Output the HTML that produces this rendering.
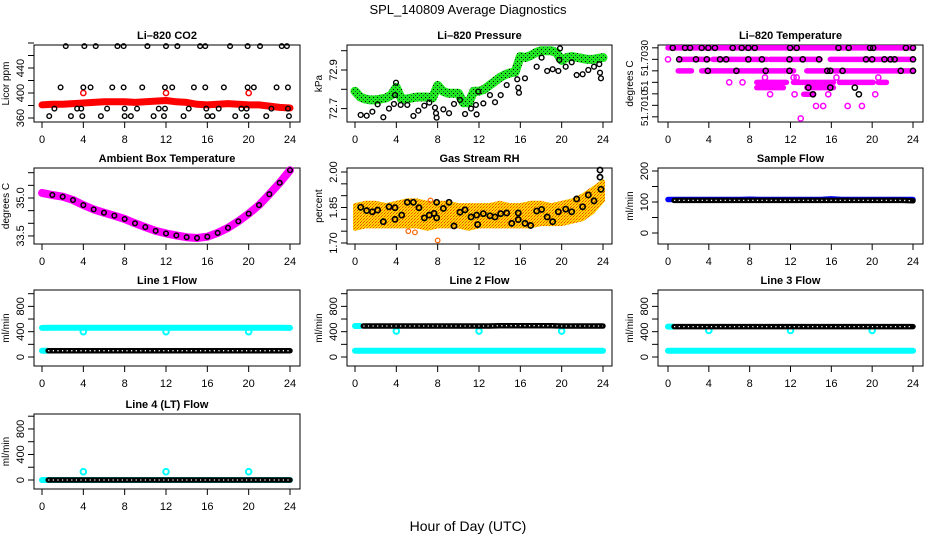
<!DOCTYPE html>
<html><head><meta charset="utf-8"><style>
body{margin:0;background:#fff}
svg{display:block;font-family:"Liberation Sans",sans-serif}
</style></head><body>
<svg id="root" width="936" height="540" viewBox="0 0 936 540" xmlns="http://www.w3.org/2000/svg">
<defs>
<pattern id="pg" width="4" height="4" patternUnits="userSpaceOnUse"><rect width="4" height="4" fill="#22e622"/><rect x="1" y="1" width="1" height="1" fill="#000"/><rect x="3" y="3" width="1" height="1" fill="#063"/></pattern>
<pattern id="po" width="3" height="3" patternUnits="userSpaceOnUse"><rect width="3" height="3" fill="#ffd800"/><rect width="1" height="1" fill="#f04000"/><rect x="2" y="1" width="1" height="1" fill="#f89000"/><rect x="1" y="2" width="1" height="1" fill="#f06000"/></pattern>
</defs>
<text x="468" y="14" text-anchor="middle" font-size="13">SPL_140809  Average Diagnostics</text>
<text x="468" y="531" text-anchor="middle" font-size="14">Hour of Day (UTC)</text>
</svg>
<script>
const hours = [0,1,2,3,4,5,6,7,8,9,10,11,12,13,14,15,16,17,18,19,20,21,22,23,24];
const xTicks = [0,4,8,12,16,20,24];
// CO2
const co2Red = [381,382,382,383,384,385,386,386,386,385,386,387,388,386,385,382,381,382,383,382,381,381,379,377,376];
const co2SpikeH = [4,12,20];
const co2SpikeV = [400,400,400];
const co2BlkH = [2.3,4.1,5.2,7.3,7.9,10.2,12.0,13.1,15.3,15.8,18.2,19.9,21.1,23.2,23.7, 1.8,4.0,4.7,6.8,7.9,9.7,11.9,12.6,14.7,15.8,17.6,19.9,20.5,22.7,23.8, 1.2,3.4,3.8,6.3,8.0,9.2,11.3,11.9,14.2,15.9,17.1,19.3,19.8,22.2,23.8, 0.7,2.8,3.9,5.7,8.0,8.6,10.8,11.8,13.7,16.0,16.5,18.7,19.8,21.7,23.9];
const co2BlkV = [475,475,475,475,475,475,475,475,475,475,475,475,475,475,475, 409,409,409,409,409,409,409,409,409,409,409,409,409,409,409, 375,375,375,375,375,375,375,375,375,375,375,375,375,375,375, 363,363,363,363,363,363,363,363,363,363,363,363,363,363,363];
// Pressure
const presH = [0,0.5,1,1.5,2,2.5,3,3.5,4,4.5,5,5.5,6,6.5,7,7.5,8,8.5,9,9.5,10,10.5,11,11.5,12,12.5,13,13.5,14,14.5,15,15.5,16,16.5,17,17.5,18,18.5,19,19.5,20,20.5,21,21.5,22,22.5,23,23.5,24];
const presGreen = [72.79,72.76,72.75,72.745,72.745,72.75,72.755,72.77,72.81,72.75,72.75,72.755,72.76,72.76,72.76,72.755,72.82,72.79,72.78,72.78,72.78,72.73,72.73,72.79,72.79,72.80,72.82,72.84,72.86,72.875,72.885,72.89,72.97,72.965,72.975,72.99,73.0,73.0,73.0,72.99,72.95,72.965,72.97,72.965,72.96,72.955,72.955,72.96,72.965];
const presBlkH = [0.55,1.13,1.68,2.19,2.74,3.29,3.77,3.97,3.87,4.42,5.06,5.65,6.13,6.71,7.19,7.74,7.84,7.9,8.55,9.1,9.58,10.16,10.65,11.23,11.7,11.77,11.93,12.42,13.06,13.55,14.1,14.68,15.7,15.8,15.87,16.45,17.58,18.06,18.6,19.13,19.68,19.77,19.84,20.39,20.97,21.45,22.03,22.58,23.13,23.64,23.71,23.8];
const presBlkV = [72.667,72.663,72.684,72.722,72.655,72.70,72.724,72.834,72.77,72.719,72.719,72.662,72.689,72.715,72.731,72.705,72.676,72.653,72.696,72.676,72.724,72.745,72.672,72.70,72.719,72.67,72.788,72.727,72.77,72.733,72.77,72.822,72.852,72.808,72.782,72.857,72.917,72.964,72.895,72.904,72.895,72.952,73.012,72.917,72.94,72.874,72.878,72.90,72.917,72.93,72.886,72.857];
// Li-820 temperature (magenta segments: level value, start hour, end hour)
const tSegV = [51.7035,51.7030,51.7030,51.7030,51.7030,51.7025,51.7025,51.7025,51.7020,51.7020,51.7020,51.7020,51.70177,51.70177,51.70148];
const tSegA = [0.0,1.2,4.4,10.0,15.9,1.0,3.3,13.6,8.7,12.3,16.8,20.6,8.7,13.6,13.3];
const tSegB = [24.0,3.95,9.7,14.9,24.0,2.3,12.3,24.0,11.6,16.2,20.1,21.4,11.3,16.2,14.2];
const tMagH = [0.0,9.5,12.3,12.6,16.5,20.6,6.0,7.3,10.0,12.4,14.2,15.7,20.3,14.5,15.2,17.6,19.0,13.0];
const tMagV = [51.7030,51.70221,51.70221,51.70221,51.70221,51.70221,51.7020,51.7020,51.70148,51.70148,51.70148,51.70148,51.70148,51.70097,51.70097,51.70097,51.70097,51.70043];
const tBlkH = [0.46,1.67,2.16,3.3,3.95,4.6,6.34,7.22,7.87,8.5,11.96,12.6,16.7,17.7,19.8,20.1,23.3,24.0, 1.1,2.74,3.8,5.1,5.7,7.87,9.2,11.9,13.2,14.8,19.4,20.0,21.2,21.8,22.2,24.0, 3.9,6.7,9.57,11.9,15.6,15.9,17.1,22.8,24.0, 13.75,15.9,18.3,14.2,18.7];
const tBlkV = [51.7035,51.7035,51.7035,51.7035,51.7035,51.7035,51.7035,51.7035,51.7035,51.7035,51.7035,51.7035,51.7035,51.7035,51.7035,51.7035,51.7035,51.7035, 51.7030,51.7030,51.7030,51.7030,51.7030,51.7030,51.7030,51.7030,51.7030,51.7030,51.7030,51.7030,51.7030,51.7030,51.7030,51.7030, 51.7025,51.7025,51.7025,51.7025,51.7025,51.7025,51.7025,51.7025,51.7025, 51.70177,51.70177,51.70177,51.70148,51.70148];
// Ambient box temperature
const boxT = [35.2,35.12,35.05,34.92,34.72,34.55,34.42,34.3,34.17,34.0,33.85,33.7,33.6,33.52,33.45,33.42,33.47,33.62,33.82,34.08,34.38,34.72,35.15,35.6,36.1];
// Gas stream RH
const rhLow = [1.76,1.77,1.77,1.77,1.77,1.77,1.77,1.76,1.77,1.77,1.77,1.76,1.77,1.77,1.77,1.77,1.77,1.77,1.78,1.78,1.78,1.79,1.80,1.83,1.88];
const rhHigh = [1.86,1.87,1.87,1.86,1.87,1.88,1.88,1.87,1.87,1.87,1.86,1.86,1.86,1.86,1.87,1.86,1.86,1.87,1.87,1.86,1.87,1.88,1.90,1.93,1.96];
const rhBlkH = [0.55,1.13,1.68,2.19,2.74,3.29,3.87,3.87,4.52,5.06,5.65,6.19,6.71,7.19,7.65,7.9,7.9,8.55,9.1,9.58,10.16,10.65,11.23,11.77,11.87,12.42,13.06,13.55,14.1,14.68,15.17,15.8,15.8,16.45,17.0,17.58,18.06,18.6,19.13,19.68,20.39,20.97,21.45,22.03,22.58,23.13,23.71,23.71,23.8];
const rhBlkV = [1.851,1.837,1.832,1.839,1.79,1.853,1.849,1.80,1.818,1.872,1.872,1.849,1.806,1.818,1.825,1.872,1.806,1.846,1.872,1.772,1.83,1.84,1.81,1.818,1.778,1.824,1.815,1.81,1.824,1.827,1.783,1.827,1.799,1.783,1.774,1.835,1.842,1.81,1.79,1.832,1.843,1.832,1.886,1.853,1.903,1.878,1.978,2.008,1.927];
const rhOutH = [5.16,5.8,8.0,7.3];
const rhOutV = [1.75,1.745,1.711,1.88];
// Flows
const sampleBlue = [108,108,108,108,108,108,108,108,109,108,108,108,108,108,108,108,110,108,108,108,108,108,108,108,108];
const sampleBlack = [105,105,105,105,105,105,105,105,105,105,105,105,105,105,105,105,105,105,105,105,105,105,105,105,104];
const line1Cyan = [460,462,462,462,462,462,462,462,462,462,462,462,462,462,462,462,462,462,462,462,462,462,462,462,460];
const line1Black = [100,100,100,100,100,100,100,100,100,100,100,100,100,100,100,100,100,100,100,100,100,100,100,100,100];
const line2Cyan = [100,100,100,100,100,100,100,100,100,100,100,100,100,100,100,100,100,100,100,100,100,100,100,100,100];
const line2Black = [490,490,490,490,490,490,490,490,490,490,490,490,490,490,495,495,495,495,495,495,490,490,490,490,490];
const line3Cyan = [100,100,100,100,100,100,100,100,100,100,100,100,100,100,100,100,100,100,100,100,100,100,100,100,100];
const line3Black = [480,480,480,480,480,480,480,480,480,480,480,480,480,480,480,480,480,480,480,480,480,480,480,480,480];
const line4Cyan = [0,0,0,0,0,0,0,0,0,0,0,0,0,0,0,0,0,0,0,0,0,0,0,0,0];
const line4Black = [0,0,0,0,0,0,0,0,0,0,0,0,0,0,0,0,0,0,0,0,0,0,0,0,0];
const dipH = [4,12,20];
const line1Dip = [400,400,400];
const line2Dip = [410,410,410];
const line3Dip = [420,420,420];
const line4Bump = [130,130,130];

const NS = 'http://www.w3.org/2000/svg';
const root = document.getElementById('root');
function mk(tag, attrs, parent, name) {
  const e = document.createElementNS(NS, tag);
  for (const k in attrs) e.setAttribute(k, attrs[k]);
  
  
  parent.appendChild(e);
  return e;
}

const COLS = [[34,300,42,290],[347,612,355,603],[658,923,668,913]];
const ROWS = [[45,122],[168,244],[290,366],[414,489]];

function panel(key, col, row, title, ylab, yf, ticks, labels, lfs) {
  const [bx0,bx1,xa,xb] = COLS[col];
  const [by0,by1] = ROWS[row];
  const g = mk('g', {}, root, key + '-panel');
  const xf = h => xa + (xb - xa) * h / 24;
  mk('text', {x:(bx0+bx1)/2, y:by0-6, 'text-anchor':'middle', 'font-size':11, 'font-weight':'bold'}, g, key + '-title').textContent = title;
  mk('rect', {x:bx0, y:by0, width:bx1-bx0, height:by1-by0, fill:'none', stroke:'#000', 'stroke-width':1}, g, key + '-plot-box');
  const xa_ = mk('g', {}, g, key + '-x-axis');
  xTicks.forEach(t => {
    mk('line', {x1:xf(t), x2:xf(t), y1:by1, y2:by1+6, stroke:'#000'}, xa_, key + '-x-tick');
    mk('text', {x:xf(t), y:by1+21, 'text-anchor':'middle', 'font-size':11}, xa_, key + '-x-tick-label').textContent = t;
  });
  const ya = mk('g', {}, g, key + '-y-axis');
  ticks.forEach(t => {
    mk('line', {x1:bx0-6, x2:bx0, y1:yf(t), y2:yf(t), stroke:'#000'}, ya, key + '-y-tick');
  });
  labels.forEach(l => {
    const y = l[2] !== undefined ? l[2] : yf(l[0]);
    const tx = bx0 - 10;
    mk('text', {x:tx, y:y, 'text-anchor':'middle', 'font-size':lfs||11, transform:`rotate(-90 ${tx} ${y})`}, ya, key + '-y-tick-label').textContent = l[1];
  });
  const ly = (by0+by1)/2, lx = bx0 - 25;
  mk('text', {x:lx, y:ly, 'text-anchor':'middle', 'font-size':10, transform:`rotate(-90 ${lx} ${ly})`}, g, key + '-y-axis-title').textContent = ylab;
  const marks = mk('g', {}, g, key + '-marks');
  return {g:marks, xf, yf};
}
function circles(p, hs, vs, color, name, r, sw) {
  hs.forEach((h,i) => {
    mk('circle', {cx:p.xf(h), cy:p.yf(vs[i]), r:r||2.6, fill:'none', stroke:color, 'stroke-width':sw||1.5}, p.g, name);
  });
}
function band(p, hs, vs, color, w, name) {
  const pts = hs.map((h,i) => p.xf(h).toFixed(1)+','+p.yf(vs[i]).toFixed(1)).join(' ');
  mk('polyline', {points:pts, fill:'none', stroke:color, 'stroke-width':w, 'stroke-linejoin':'round', 'stroke-linecap':'round'}, p.g, name);
}
function chain(p, hs, vs, name, h0) {
  const hh = hs.map((h,i)=> i===0 && h0!==undefined ? h0 : h);
  band(p, hh, vs, '#000', 5.5, name);
  const pts = hh.map((h,i) => p.xf(h).toFixed(1)+','+p.yf(vs[i]).toFixed(1)).join(' ');
  mk('polyline', {points:pts, fill:'none', stroke:'#fff', 'stroke-width':1.3, 'stroke-dasharray':'1.2 3.4'}, p.g, name + '-holes');
}

// 1 CO2
let p = panel('co2', 0, 0, 'Li\u2013820 CO2', 'Licor ppm', v => 118 - (v-360)*0.625, [360,380,400,420,440,460,480], [[360,'360'],[400,'400'],[440,'440']]);
band(p, hours, co2Red, '#f00', 7, 'co2-red-series');
circles(p, co2SpikeH, co2SpikeV, '#f00', 'co2-red-point');
circles(p, co2BlkH, co2BlkV, '#000', 'co2-black-point', 2.3, 1.4);

// 2 Pressure
p = panel('pressure', 1, 0, 'Li\u2013820 Pressure', 'kPa', v => 70 - (v-72.9)*193, [72.7,72.8,72.9,73.0], [[72.7,'72.7'],[72.9,'72.9']]);
band(p, presH, presGreen, 'url(#pg)', 9, 'pressure-green-series');
circles(p, presBlkH, presBlkV, '#000', 'pressure-black-point', 2.4, 1.4);

// 3 Temperature
p = panel('li820-temp', 2, 0, 'Li\u2013820 Temperature', 'degrees C', v => 25 + (103 - (v-51.7030)/0.0005*34.5)/3, [51.7005,51.7010,51.7015,51.7020,51.7025,51.7030,51.7035], [[0,'51.7030',58],[0,'51',86],[0,'51.7010',108]], 10);
tSegV.forEach((v,i) => {
  mk('line', {x1:p.xf(tSegA[i]), x2:p.xf(tSegB[i]), y1:p.yf(v), y2:p.yf(v), stroke:'#f0f', 'stroke-width':5.5, 'stroke-linecap':'round'}, p.g, 'temp-magenta-run');
});
circles(p, tMagH, tMagV, '#f0f', 'temp-magenta-point');
circles(p, tBlkH, tBlkV, '#000', 'temp-black-point');

// 4 Ambient box temp
p = panel('box-temp', 0, 1, 'Ambient Box Temperature', 'degrees C', v => 198 - (v-35)*25.3, [33.5,34.0,34.5,35.0,35.5,36.0], [[33.5,'33.5'],[35.0,'35.0']]);
band(p, hours, boxT, '#f0f', 8, 'box-temp-magenta-series');
circles(p, hours.slice(1), boxT.slice(1), '#000', 'box-temp-black-point', 2.3, 1.5);

// 5 RH
p = panel('rh', 1, 1, 'Gas Stream RH', 'percent', v => 172 - (v-2.0)*236.7, [1.70,1.75,1.80,1.85,1.90,1.95,2.00], [[1.70,'1.70'],[1.85,'1.85'],[2.00,'2.00']]);
{
  const top = hours.map((h,i)=>p.xf(h).toFixed(1)+','+p.yf(rhHigh[i]).toFixed(1));
  const bot = hours.map((h,i)=>p.xf(h).toFixed(1)+','+p.yf(rhLow[i]).toFixed(1)).reverse();
  mk('polygon', {points: top.concat(bot).join(' '), fill:'url(#po)', stroke:'url(#po)', 'stroke-width':4, 'stroke-linejoin':'round'}, p.g, 'rh-orange-band');
}
circles(p, rhOutH, rhOutV, '#f60', 'rh-orange-point', 2.3, 1.2);
circles(p, rhBlkH, rhBlkV, '#000', 'rh-black-point', 2.6, 1.7);

// 6 Sample flow
p = panel('sample-flow', 2, 1, 'Sample Flow', 'ml/min', v => 233 - v*0.31, [0,50,100,150,200], [[0,'0'],[100,'100'],[200,'200']]);
band(p, hours, sampleBlue, '#00f', 5.5, 'sample-flow-blue-series');
chain(p, hours, sampleBlack, 'sample-flow-black-series', 0.6);

// 7-10 Line flows
const fy3 = v => 357 - v*0.0633;
const fy4 = v => 480 - v*0.0638;
const fT = [0,200,400,600,800,1000];
const fL = [[0,'0'],[400,'400'],[800,'800']];
p = panel('line1', 0, 2, 'Line 1 Flow', 'ml/min', fy3, fT, fL);
band(p, hours, line1Cyan, '#0ff', 6, 'line1-cyan-series');
circles(p, dipH, line1Dip, '#0ff', 'line1-cyan-dip', 2.8, 2);
band(p, [0,0.5], [line1Black[0],line1Black[1]], '#0ff', 6, 'line1-cyan-low');
chain(p, hours, line1Black, 'line1-black-series', 0.6);

p = panel('line2', 1, 2, 'Line 2 Flow', 'ml/min', fy3, fT, fL);
band(p, hours, line2Cyan, '#0ff', 6, 'line2-cyan-series');
band(p, [0,0.5], [line2Black[0],line2Black[1]], '#0ff', 6, 'line2-cyan-high');
circles(p, dipH, line2Dip, '#0ff', 'line2-cyan-dip', 2.8, 2);
chain(p, hours, line2Black, 'line2-black-series', 0.8);

p = panel('line3', 2, 2, 'Line 3 Flow', 'ml/min', fy3, fT, fL);
band(p, hours, line3Cyan, '#0ff', 6, 'line3-cyan-series');
band(p, [0,0.5], [line3Black[0],line3Black[1]], '#0ff', 6, 'line3-cyan-high');
circles(p, dipH, line3Dip, '#0ff', 'line3-cyan-dip', 2.8, 2);
chain(p, hours, line3Black, 'line3-black-series', 0.6);

p = panel('line4', 0, 3, 'Line 4 (LT) Flow', 'ml/min', fy4, fT, fL);
band(p, hours, line4Cyan, '#0ff', 6, 'line4-cyan-series');
circles(p, dipH, line4Bump, '#0ff', 'line4-cyan-bump', 2.8, 2);
chain(p, hours, line4Black, 'line4-black-series', 0.6);
</script>
</body></html>
